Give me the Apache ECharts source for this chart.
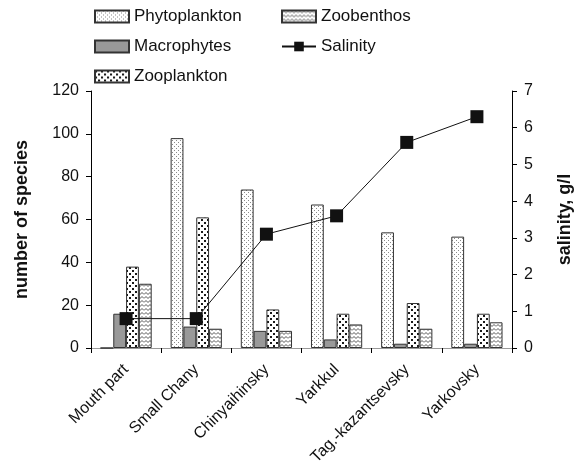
<!DOCTYPE html>
<html><head><meta charset="utf-8">
<script src="https://cdn.jsdelivr.net/npm/echarts@6/dist/echarts.min.js"></script>
<style>html,body{margin:0;padding:0;background:#fff}#c{width:582px;height:471px}</style>
</head><body><div id="c"></div>
<script>
const categories = ['Mouth part','Small Chany','Chinyaihinsky','Yarkkul','Tag.-kazantsevsky','Yarkovsky'];
const phytoplankton = [0, 98, 74, 67, 54, 52];
const macrophytes = [16, 10, 8, 4, 2, 2];
const zooplankton = [38, 61, 18, 16, 21, 16];
const zoobenthos = [30, 9, 8, 11, 9, 12];
const salinity = [0.8, 0.8, 3.1, 3.6, 5.6, 6.3];
const speciesTicks = [0, 120, 20];
const salinityTicks = [0, 7, 1];

function pat(kind){
  const c = document.createElement('canvas');
  const x = c.getContext('2d');
  if(kind==='phyto'){
    c.width=4;c.height=4;
    x.fillStyle='#fff';x.fillRect(0,0,4,4);
    x.fillStyle='#8a8a8a';x.fillRect(0,0,1,1);x.fillRect(2,2,1,1);
  } else if(kind==='zoo'){
    c.width=6;c.height=6;
    x.fillStyle='#fff';x.fillRect(0,0,6,6);
    x.fillStyle='#1a1a1a';x.fillRect(0,0,2,2);x.fillRect(3,3,2,2);
  } else {
    c.width=8;c.height=4;
    x.fillStyle='#fff';x.fillRect(0,0,8,4);
    x.strokeStyle='#555';x.lineWidth=1;
    x.beginPath();x.moveTo(0,2.5);x.lineTo(2,0.5);x.lineTo(4,2.5);x.lineTo(6,0.5);x.lineTo(8,2.5);x.stroke();
  }
  return {image:c, repeat:'repeat'};
}

const chart = echarts.init(document.getElementById('c'));
const font = 'Liberation Sans, Arial, sans-serif';
const barStyle = (fill)=>({color:fill, borderColor:'#333', borderWidth:1});
const legText = {fontSize:17,color:'#111',fontFamily:font};
chart.setOption({
  animation:false,
  textStyle:{fontFamily:font},
  legend:[
    {left:89, top:3, orient:'vertical', itemWidth:34, itemHeight:12, itemGap:13, textStyle:legText,
     data:[{name:'Phytoplankton',icon:'rect'},{name:'Macrophytes',icon:'rect'},{name:'Zooplankton',icon:'rect'}]},
    {left:276, top:3, orient:'vertical', itemWidth:34, itemHeight:12, itemGap:13, textStyle:legText,
     data:[{name:'Zoobenthos',icon:'rect'},{name:'Salinity'}]}
  ],
  grid:{left:91, right:69, top:91, bottom:123},
  xAxis:[{
    type:'category', data:categories,
    axisLine:{lineStyle:{color:'#000'}},
    axisTick:{show:true, length:5, lineStyle:{color:'#000'}},
    axisLabel:{rotate:45, fontSize:16, color:'#111', fontFamily:font, margin:19, interval:0}
  },{
    type:'category', data:categories, position:'top',
    axisLine:{lineStyle:{color:'#999'}}, axisTick:{show:false}, axisLabel:{show:false}
  }],
  yAxis:[{
    type:'value', min:speciesTicks[0], max:speciesTicks[1], interval:speciesTicks[2],
    name:'number of species', nameLocation:'middle', nameGap:60, nameRotate:90,
    nameTextStyle:{fontSize:18, fontWeight:'bold', color:'#111', fontFamily:font},
    axisLine:{show:true, lineStyle:{color:'#000'}},
    axisTick:{show:true, length:5, lineStyle:{color:'#000'}},
    axisLabel:{fontSize:16, color:'#111', fontFamily:font, margin:12},
    splitLine:{show:false}
  },{
    type:'value', min:salinityTicks[0], max:salinityTicks[1], interval:salinityTicks[2], position:'right',
    name:'salinity, g/l', nameLocation:'middle', nameGap:44, nameRotate:90,
    nameTextStyle:{fontSize:18, fontWeight:'bold', color:'#111', fontFamily:font},
    axisLine:{show:true, lineStyle:{color:'#000'}},
    axisTick:{show:true, length:5, lineStyle:{color:'#000'}},
    axisLabel:{fontSize:16, color:'#111', fontFamily:font, margin:12},
    splitLine:{show:false}
  }],
  series:[
    {name:'Phytoplankton', type:'bar', data:phytoplankton, barGap:'0%', barCategoryGap:'27%', itemStyle:barStyle(pat('phyto'))},
    {name:'Macrophytes', type:'bar', data:macrophytes, itemStyle:barStyle('#999999')},
    {name:'Zooplankton', type:'bar', data:zooplankton, itemStyle:barStyle(pat('zoo'))},
    {name:'Zoobenthos', type:'bar', data:zoobenthos, itemStyle:barStyle(pat('benth'))},
    {name:'Salinity', type:'line', yAxisIndex:1, data:salinity, symbol:'rect', symbolSize:13,
     lineStyle:{color:'#111', width:1}, itemStyle:{color:'#111'}, z:5}
  ]
});
</script></body></html>
